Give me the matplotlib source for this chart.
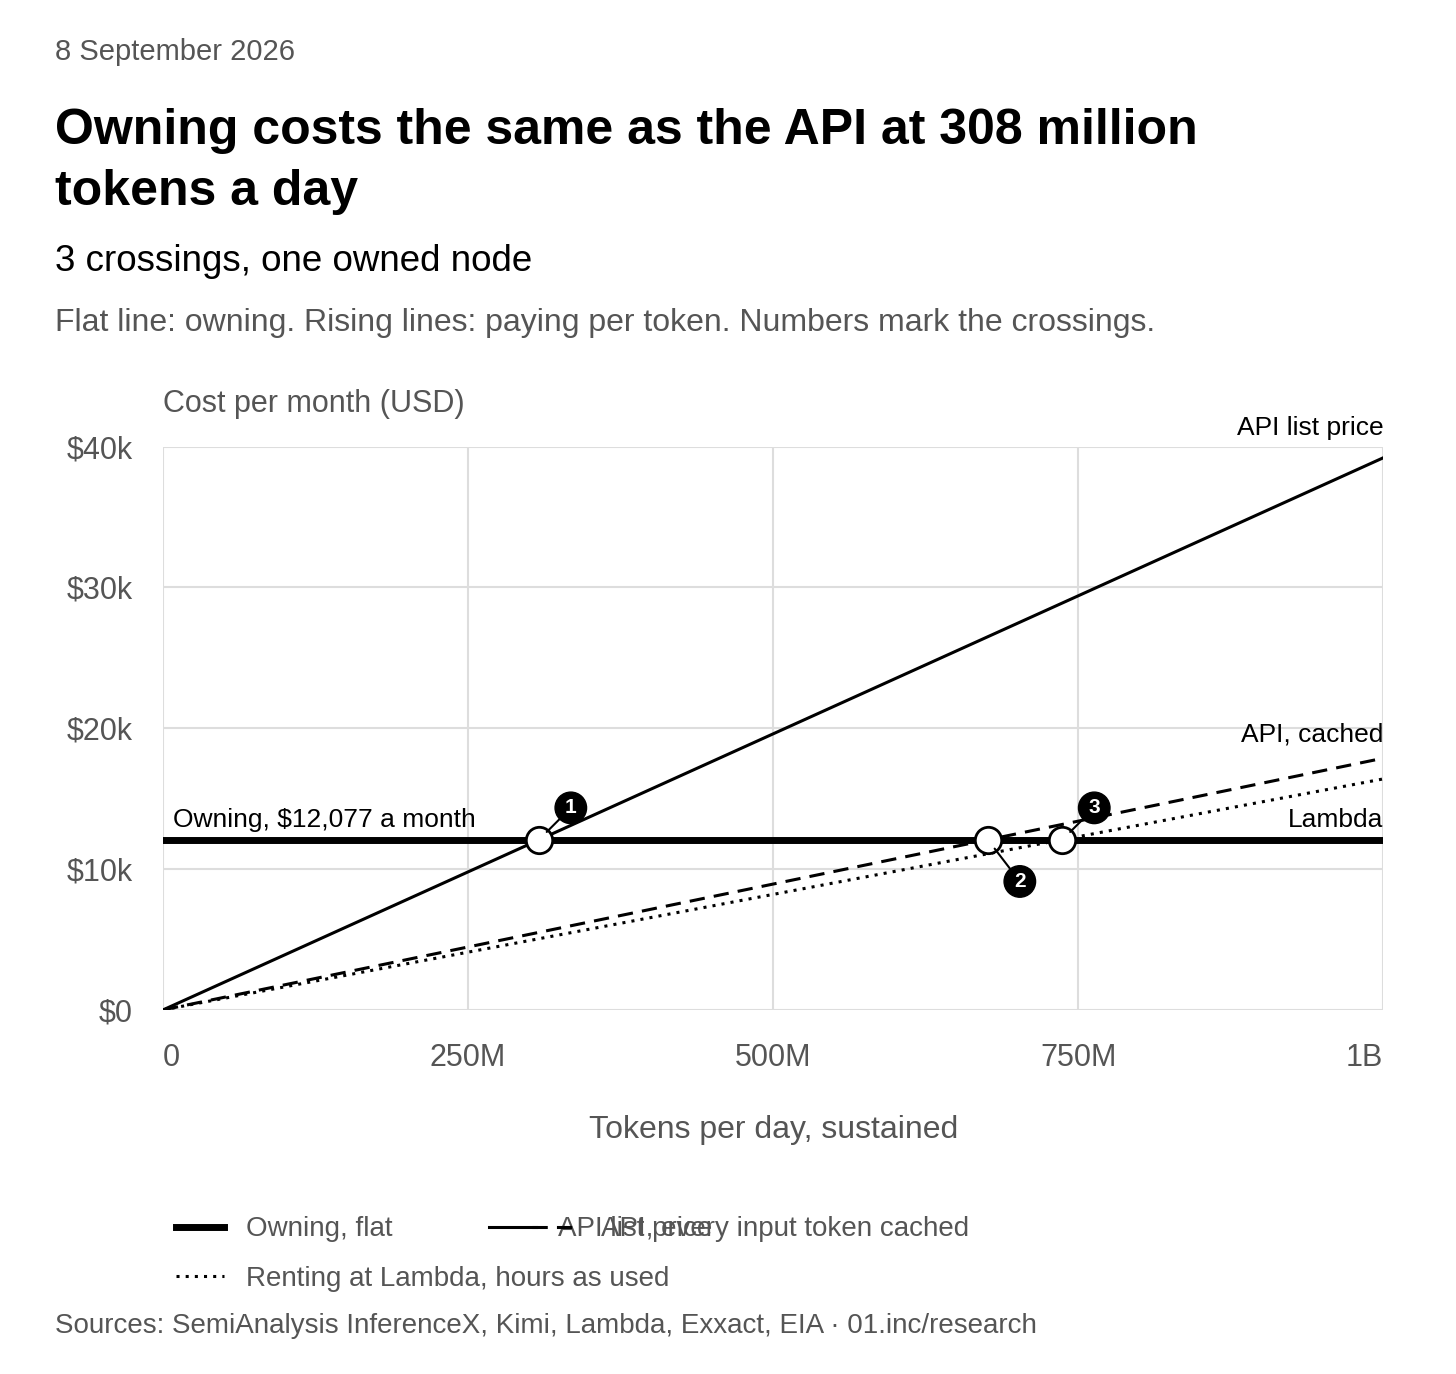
import matplotlib.pyplot as plt
from matplotlib.lines import Line2D

plt.rcParams['font.family'] = ['Liberation Sans', 'DejaVu Sans']

tokens = [0, 1e9]
owning = 12077
api_list = [0, 39200]
api_cached = [0, 17870]
lambda_rent = [0, 16400]
crossings = [308e6, 676e6, 737e6]
badge_offsets = [(23, 23), (23, -30), (23, 23)]
x_ticks = [0, 250e6, 500e6, 750e6, 1e9]
x_labels = ["0", "250M", "500M", "750M", "1B"]
y_ticks = [0, 10000, 20000, 30000, 40000]
y_labels = ["$0", "$10k", "$20k", "$30k", "$40k"]

fig = plt.figure(figsize=(14.56, 13.74), dpi=100)
ax = fig.add_axes([0.112, 0.265, 0.838, 0.41])

ax.axhline(owning, color="black", lw=5, zorder=3)
ax.plot(tokens, api_list, color="black", lw=2.2)
ax.plot(tokens, api_cached, color="black", lw=2.2, ls=(0, (5, 3)))
ax.plot(tokens, lambda_rent, color="black", lw=2.2, ls=(0, (1, 2)))

for i, (cx, off) in enumerate(zip(crossings, badge_offsets)):
    ax.plot(cx, owning, "o", ms=19, mfc="white", mec="black", mew=2, zorder=5)
    ax.annotate(str(i + 1), (cx, owning), xytext=off, textcoords="offset points",
                ha="center", va="center", color="white", fontsize=15, fontweight="bold",
                bbox=dict(boxstyle="circle,pad=0.3", fc="black", ec="black"),
                arrowprops=dict(arrowstyle="-", color="black", lw=1.5, shrinkA=0, shrinkB=8),
                zorder=6)

ax.set_xlim(0, 1e9)
ax.set_ylim(0, 40000)
ax.set_xticks(x_ticks, x_labels)
ax.set_yticks(y_ticks, y_labels)
for lab, ha in zip(ax.get_xticklabels(), ["left", "center", "center", "center", "right"]):
    lab.set_ha(ha)
ax.tick_params(length=0, labelsize=22, labelcolor="#555555")
ax.tick_params(axis="x", pad=24)
ax.tick_params(axis="y", pad=22)
ax.grid(color="#dddddd", lw=1.5)
for s in ["top", "right", "left", "bottom"]:
    ax.spines[s].set_visible(False)
ax.set_axisbelow(True)
ax.set_xlabel("Tokens per day, sustained", fontsize=23, color="#555555", labelpad=30)

ax.text(1e9, 40500, "API list price", ha="right", va="bottom", fontsize=19)
ax.text(1e9, 18700, "API, cached", ha="right", va="bottom", fontsize=19)
ax.text(1e9, 12600, "Lambda", ha="right", va="bottom", fontsize=19)
ax.text(0.008e9, 12600, "Owning, $12,077 a month", ha="left", va="bottom", fontsize=19)

fig.text(0.038, 0.962, "8 September 2026", fontsize=21, color="#555555", va="center")
fig.text(0.038, 0.905, "Owning costs the same as the API at 308 million", fontsize=36,
         fontweight="bold", va="center")
fig.text(0.038, 0.860, "tokens a day", fontsize=36, fontweight="bold", va="center")
fig.text(0.038, 0.810, "3 crossings, one owned node", fontsize=26.5, va="center")
fig.text(0.038, 0.765, "Flat line: owning. Rising lines: paying per token. Numbers mark the crossings.",
         fontsize=23, color="#555555", va="center")
fig.text(0.112, 0.706, "Cost per month (USD)", fontsize=22, color="#555555", va="center")
fig.text(0.038, 0.035, "Sources: SemiAnalysis InferenceX, Kimi, Lambda, Exxact, EIA · 01.inc/research",
         fontsize=20, color="#555555", va="center")

handles = [Line2D([], [], color="black", lw=5),
           Line2D([], [], color="black", lw=2.2, ls=(0, (1, 2))),
           Line2D([], [], color="black", lw=2.2),
           Line2D([], [], color="black", lw=2.2, ls=(0, (5, 3)))]
labels = ["Owning, flat", "Renting at Lambda, hours as used", "API list price",
          "API, every input token cached"]
leg = fig.legend(handles, labels, loc="upper left", bbox_to_anchor=(0.104, 0.133), ncol=3,
                 frameon=False, fontsize=20, handlelength=1.7, handletextpad=0.8,
                 columnspacing=-6.5, labelspacing=0.85)
for t in leg.get_texts():
    t.set_color("#555555")

fig.savefig("out.png", dpi=100, facecolor="white")
